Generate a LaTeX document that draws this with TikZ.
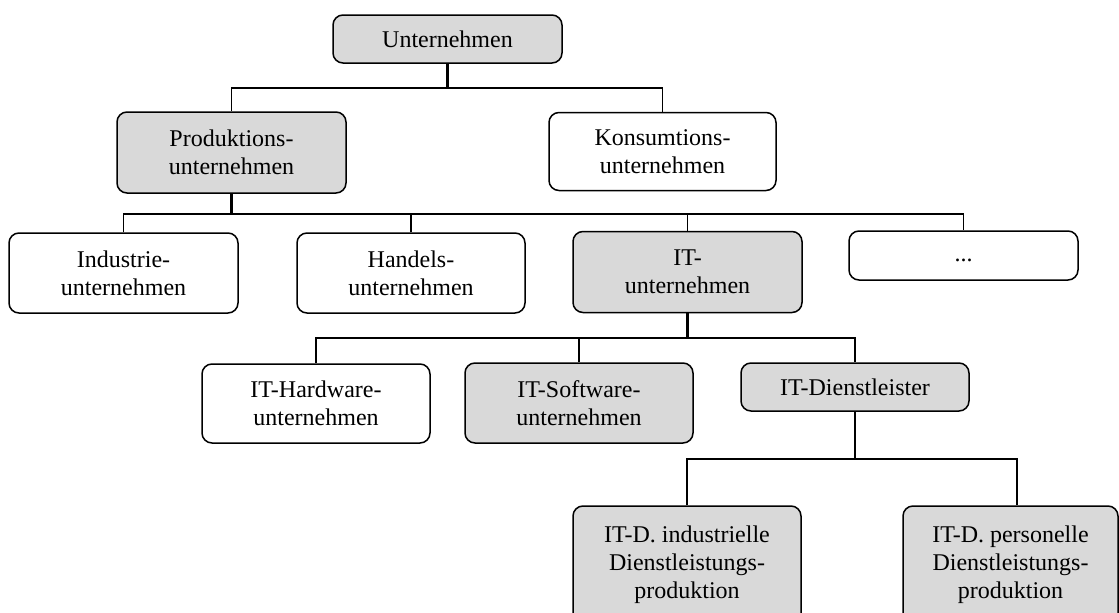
\documentclass[tikz,border=0pt]{standalone}
\usepackage{fontspec}
\setmainfont{Liberation Serif}
\definecolor{boxgrey}{HTML}{D9D9D9}
\tikzset{
  box/.style={draw, line width=1.5pt, rounded corners=10pt, align=center,
    inner sep=0pt, font=\fontsize{24}{28}\selectfont},
  greybox/.style={box, fill=boxgrey},
  whitebox/.style={box, fill=white},
  branch/.style={line width=1.7pt},
  trunk/.style={line width=2.6pt},
}
\begin{document}
\begin{tikzpicture}[x=1pt, y=-1pt]
\clip (0,0) rectangle (1119,613);

% level 0
\node[greybox, minimum width=229, minimum height=48] (u) at (447.5,39) {Unternehmen};

% level 1
\node[greybox, minimum width=229, minimum height=81] (prod) at (231.5,152.5) {Produktions-\\unternehmen};
\node[whitebox, minimum width=227, minimum height=78] (kons) at (662.5,151.5) {Konsumtions-\\unternehmen};

% level 2
\node[whitebox, minimum width=229, minimum height=80] (ind) at (123.5,273) {Industrie-\\unternehmen};
\node[whitebox, minimum width=228, minimum height=80] (han) at (411,273) {Handels-\\unternehmen};
\node[greybox, minimum width=229, minimum height=81] (itu) at (687.5,272) {IT-\\unternehmen};
\node[whitebox, minimum width=229, minimum height=49] (dots) at (963.5,255.5) {\strut...};

% level 3
\node[whitebox, minimum width=228, minimum height=79] (hw) at (316,403.5) {IT-Hardware-\\unternehmen};
\node[greybox, minimum width=228, minimum height=80] (sw) at (579,403) {IT-Software-\\unternehmen};
\node[greybox, minimum width=228, minimum height=48] (dl) at (855,387) {IT-Dienstleister};

% level 4
\node[greybox, minimum width=228, minimum height=118] (idl) at (687,565) {IT-D. industrielle\\Dienstleistungs-\\produktion};
\node[greybox, minimum width=215, minimum height=118] (pdl) at (1010.5,565) {IT-D. personelle\\Dienstleistungs-\\produktion};

% connectors
\path (u.south) ++(0,24) coordinate (j1);
\draw[branch] (prod.north) |- (j1) -| (kons.north);
\draw[trunk] (u.south) -- (j1);

\path (prod.south) ++(0,20) coordinate (j2);
\draw[branch] (ind.north) |- (dots.north |- j2) -- (dots.north);
\draw[branch] (han.north) -- (han.north |- j2);
\draw[branch] (itu.north) -- (itu.north |- j2);
\draw[trunk] (prod.south) -- (j2);

\path (itu.south) ++(0,25) coordinate (j3);
\draw[branch] (hw.north) |- (dl.north |- j3) -- (dl.north);
\draw[branch] (sw.north) -- (sw.north |- j3);
\draw[trunk] (itu.south) -- (j3);

\path (dl.south) ++(0,47) coordinate (j4);
\draw[branch] (idl.north) |- ([xshift=6.5pt]pdl.north |- j4) -- ([xshift=6.5pt]pdl.north);
\draw[trunk] (dl.south) -- (j4);
\end{tikzpicture}
\end{document}
